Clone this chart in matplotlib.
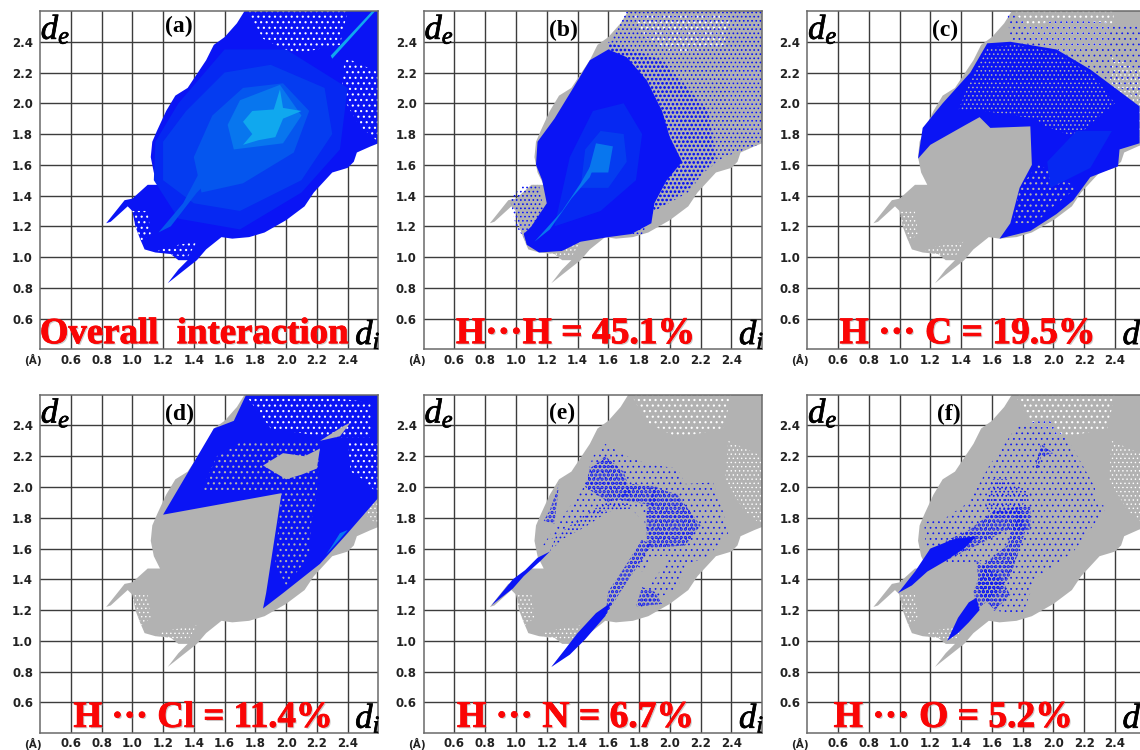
import matplotlib
matplotlib.use("Agg")
import matplotlib.pyplot as plt
import matplotlib.patheffects as pe

plt.rcParams["mathtext.fontset"] = "custom"
plt.rcParams["mathtext.it"] = "Liberation Serif:italic"
plt.rcParams["mathtext.rm"] = "Liberation Serif"

# tick labels
tick_vals = [0.6, 0.8, 1.0, 1.2, 1.4, 1.6, 1.8, 2.0, 2.2, 2.4]
tick_labels = ["0.6", "0.8", "1.0", "1.2", "1.4", "1.6", "1.8", "2.0", "2.2", "2.4"]

panel_names = ["(a)", "(b)", "(c)", "(d)", "(e)", "(f)"]
red_labels = ["Overall  interaction", "H···H = 45.1%", "H ··· C = 19.5%",
              "H ··· Cl = 11.4%", "H ··· N = 6.7%", "H ··· O = 5.2%"]

# outline of the whole fingerprint (di, de)
hull = [(1.23, 0.83), (1.42, 0.98), (1.48, 1.05), (1.58, 1.13), (1.65, 1.12), (1.76, 1.13),
        (1.86, 1.16), (2.0, 1.24), (2.12, 1.33), (2.18, 1.42), (2.3, 1.55), (2.4, 1.58),
        (2.44, 1.62), (2.46, 1.68), (2.55, 1.72), (2.6, 1.74), (2.6, 2.6), (1.73, 2.6),
        (1.68, 2.52), (1.6, 2.43), (1.53, 2.38), (1.48, 2.28), (1.4, 2.16), (1.36, 2.1),
        (1.28, 2.05), (1.22, 1.95), (1.16, 1.82), (1.13, 1.75), (1.12, 1.65), (1.14, 1.55),
        (1.18, 1.47), (1.1, 1.47), (1.0, 1.38), (0.95, 1.37), (0.83, 1.22), (0.86, 1.23),
        (0.97, 1.33), (1.0, 1.3), (1.02, 1.2), (1.05, 1.12), (1.08, 1.05), (1.15, 1.03),
        (1.25, 1.02), (1.3, 0.98), (1.36, 0.98), (1.3, 0.92)]
gaps_top = [(1.75, 2.6), (2.4, 2.6), (2.35, 2.38), (2.05, 2.32), (1.85, 2.42)]
gaps_right = [(2.6, 1.75), (2.6, 2.2), (2.38, 2.3), (2.36, 2.05), (2.48, 1.85)]
gaps_left = [(1.0, 1.3), (1.1, 1.3), (1.12, 1.15), (1.06, 1.1), (1.02, 1.2)]
gaps_low = [(1.15, 1.03), (1.36, 1.0), (1.42, 1.1), (1.3, 1.08), (1.2, 1.06)]

# (a) overall
a_base = [(1.14, 1.5), (1.3, 1.25), (1.7, 1.18), (2.1, 1.42), (2.35, 1.7), (2.4, 2.1), (2.0, 2.35),
          (1.6, 2.35), (1.3, 2.0), (1.15, 1.75)]
a_mid = [(1.2, 1.5), (1.4, 1.35), (1.7, 1.3), (2.1, 1.5), (2.3, 1.8), (2.25, 2.1), (1.9, 2.25),
         (1.6, 2.2), (1.35, 1.95), (1.2, 1.75)]
a_light = [(1.45, 1.42), (1.72, 1.48), (2.05, 1.68), (2.15, 1.95), (1.98, 2.13), (1.72, 2.1),
           (1.52, 1.92), (1.4, 1.65)]
a_warm = [(1.66, 1.7), (1.98, 1.74), (2.1, 1.92), (1.96, 2.12), (1.7, 2.02), (1.62, 1.86)]
a_hot = [(1.72, 1.73), (1.78, 1.8), (1.72, 1.88), (1.78, 1.95), (1.92, 1.96), (1.96, 2.09),
         (1.98, 1.97), (2.1, 1.95), (1.98, 1.9), (1.93, 1.78), (1.82, 1.76)]
a_stripe = [(1.17, 1.16), (1.25, 1.2), (1.42, 1.42), (1.55, 1.55), (1.62, 1.7), (1.5, 1.68),
            (1.42, 1.52), (1.33, 1.35)]
a_streak = [(2.3, 2.29), (2.58, 2.6), (2.56, 2.6), (2.29, 2.31)]

# (b) H...H
b_dense = [(1.07, 1.08), (1.15, 1.03), (1.3, 1.04), (1.42, 1.1), (1.6, 1.13), (1.75, 1.15),
           (1.88, 1.22), (1.9, 1.35), (1.98, 1.5), (2.08, 1.62), (2.0, 1.78), (1.95, 1.95),
           (1.85, 2.15), (1.72, 2.3), (1.6, 2.35), (1.48, 2.28), (1.36, 2.08),
           (1.25, 1.9), (1.14, 1.75), (1.13, 1.6), (1.17, 1.5), (1.2, 1.35), (1.1, 1.2), (1.05, 1.15)]
b_sparse = [(1.72, 2.6), (2.6, 2.6), (2.6, 1.74), (2.35, 1.65), (2.22, 1.55), (2.12, 1.42),
            (1.9, 1.3), (1.82, 1.15), (1.7, 1.15), (1.6, 2.38)]
b_fringe = [(1.6, 2.4), (1.95, 2.28), (2.25, 1.95), (2.3, 1.65), (2.14, 1.46), (1.9, 1.3), (1.7, 1.8)]
b_left = [(0.96, 1.38), (1.05, 1.47), (1.15, 1.47), (1.18, 1.3), (1.07, 1.1), (1.0, 1.2)]
b_mid = [(1.25, 1.2), (1.55, 1.3), (1.78, 1.5), (1.82, 1.8), (1.7, 2.0), (1.5, 1.95), (1.35, 1.65)]
b_light = [(1.42, 1.45), (1.6, 1.45), (1.72, 1.62), (1.7, 1.8), (1.55, 1.82), (1.45, 1.7)]
b_warm = [(1.47, 1.55), (1.6, 1.55), (1.63, 1.72), (1.52, 1.74)]
b_hot = [(1.12, 1.1), (1.22, 1.18), (1.36, 1.38), (1.48, 1.52), (1.55, 1.7), (1.5, 1.62),
         (1.42, 1.48), (1.3, 1.3)]

# (c) H...C
c_blue = [(1.12, 1.64), (1.15, 1.84), (1.28, 2.0), (1.37, 2.1), (1.46, 2.2), (1.57, 2.39),
          (1.72, 2.4), (2.02, 2.35), (2.24, 2.22), (2.56, 1.98), (2.56, 1.74), (2.43, 1.7),
          (2.42, 1.59), (2.24, 1.52), (2.13, 1.37), (2.02, 1.28), (1.85, 1.17), (1.65, 1.12),
          (1.72, 1.22), (1.78, 1.45), (1.86, 1.6), (1.85, 1.85), (1.59, 1.84), (1.52, 1.91),
          (1.43, 1.86), (1.2, 1.73)]
c_sparse = [(1.72, 2.4), (1.7, 2.6), (1.72, 2.6), (1.85, 2.5), (2.05, 2.55), (2.6, 2.5), (2.6, 2.0), (2.24, 2.22), (2.02, 2.35)]
c_gaps = [(1.45, 2.12), (1.57, 2.36), (1.75, 2.38), (2.02, 2.33), (2.26, 2.18), (2.4, 2.0), (2.28, 1.9),
          (2.15, 1.78), (1.95, 1.85), (1.88, 1.9), (1.55, 1.95), (1.38, 1.95)]
c_gaps2 = [(1.78, 1.45), (1.9, 1.6), (2.0, 1.55), (2.15, 1.45), (2.0, 1.33), (1.88, 1.22), (1.74, 1.22)]
c_mid = [(1.98, 1.45), (2.24, 1.58), (2.38, 1.82), (2.15, 1.82), (1.96, 1.62)]

# (d) H...Cl
d_blue = [(1.2, 1.82), (1.53, 2.38), (1.66, 2.43), (1.74, 2.6), (2.6, 2.6), (2.6, 1.93),
          (2.4, 1.7), (2.22, 1.5), (1.98, 1.31), (1.85, 1.21), (1.87, 1.31), (1.97, 1.96)]
d_gaps = [(1.55, 2.2), (1.72, 2.3), (2.0, 2.3), (2.22, 2.3), (2.2, 1.96), (2.16, 1.75), (2.15, 1.55),
          (2.0, 1.36), (1.93, 1.5), (1.97, 1.98), (1.45, 1.98)]
d_gaps3 = [(1.75, 2.58), (2.3, 2.58), (2.55, 2.55), (2.55, 2.32), (2.3, 2.32), (1.9, 2.38)]
d_right = [(2.4, 2.3), (2.6, 2.3), (2.6, 1.95), (2.5, 2.05), (2.42, 2.1)]
d_patch = [(1.85, 2.14), (1.98, 2.22), (2.12, 2.2), (2.22, 2.25), (2.2, 2.12), (2.1, 2.08), (2.0, 2.05)]
d_patch2 = [(2.22, 2.3), (2.38, 2.4), (2.42, 2.42), (2.35, 2.33)]
d_edge = [(2.3, 1.62), (2.26, 1.56), (2.34, 1.65), (2.4, 1.72), (2.35, 1.7)]

# (e) H...N
e_sparse = [(1.16, 1.6), (1.3, 1.8), (1.44, 2.0), (1.5, 2.2), (1.58, 2.28), (1.72, 2.2),
            (1.85, 2.15), (2.05, 2.12), (2.1, 2.02), (2.28, 2.03), (2.33, 1.9), (2.38, 1.7),
            (2.25, 1.55), (2.12, 1.5), (2.05, 1.35), (1.92, 1.27), (1.8, 1.2), (1.8, 1.27),
            (1.9, 1.4), (2.0, 1.55), (1.9, 1.55), (1.82, 1.45), (1.78, 1.5), (1.86, 1.65),
            (1.82, 1.85), (1.72, 1.88), (1.55, 1.84), (1.3, 1.72)]
e_spike1 = [(0.84, 1.23), (0.98, 1.34), (1.05, 1.42), (1.16, 1.52), (1.22, 1.58), (1.14, 1.54),
            (1.06, 1.46), (0.98, 1.4)]
e_spike2 = [(1.23, 0.83), (1.35, 0.91), (1.45, 1.01), (1.58, 1.16), (1.62, 1.25), (1.52, 1.18),
            (1.4, 1.05), (1.3, 0.92)]
e_arc = [(1.22, 1.58), (1.3, 1.66), (1.45, 1.74), (1.6, 1.84), (1.75, 1.86), (1.82, 1.78),
         (1.72, 1.9), (1.58, 1.9), (1.42, 1.8), (1.26, 1.68)]
e_leg = [(1.58, 1.16), (1.68, 1.32), (1.8, 1.5), (1.88, 1.62), (1.82, 1.66), (1.72, 1.5), (1.6, 1.32)]
e_clump1 = [(1.85, 1.6), (2.1, 1.62), (2.2, 1.75), (2.05, 1.95), (1.9, 2.0), (1.85, 1.85)]
e_clump2 = [(1.45, 2.0), (1.6, 1.9), (1.75, 1.95), (1.7, 2.1), (1.58, 2.2), (1.48, 2.12)]
e_clump3 = [(1.78, 1.22), (1.95, 1.24), (1.9, 1.32), (1.82, 1.35)]
e_clump4 = [(1.18, 1.78), (1.25, 1.76), (1.28, 2.02), (1.22, 1.85)]
e_clump5 = [(1.65, 1.92), (1.9, 1.88), (1.92, 2.0), (1.75, 2.02)]

# (f) H...O
f_sparse = [(1.16, 1.77), (1.3, 1.8), (1.45, 1.9), (1.59, 2.15), (1.76, 2.39), (1.96, 2.45),
            (2.11, 2.28), (2.27, 2.0), (2.27, 1.9), (2.35, 1.87), (2.13, 1.58), (1.88, 1.4),
            (1.8, 1.17), (1.59, 1.2), (1.5, 1.35), (1.55, 1.52), (1.35, 1.5), (1.2, 1.55), (1.17, 1.6)]
f_spike1 = [(0.99, 1.31), (1.08, 1.36), (1.18, 1.45), (1.3, 1.52), (1.42, 1.6), (1.5, 1.68),
            (1.35, 1.66), (1.2, 1.6), (1.1, 1.45)]
f_spike2 = [(1.31, 1.0), (1.38, 1.05), (1.45, 1.12), (1.52, 1.2), (1.5, 1.28), (1.45, 1.25), (1.38, 1.15)]
f_band1 = [(1.3, 1.52), (1.5, 1.62), (1.7, 1.72), (1.85, 1.72), (1.85, 1.88), (1.62, 1.85), (1.45, 1.72), (1.3, 1.65)]
f_band2 = [(1.5, 1.2), (1.62, 1.3), (1.72, 1.42), (1.82, 1.72), (1.78, 1.88), (1.7, 1.62), (1.55, 1.5), (1.48, 1.32)]
f_clump1 = [(1.88, 2.12), (1.92, 2.28), (2.0, 2.22), (1.92, 2.2), (1.9, 2.12)]
f_clump2 = [(1.5, 1.52), (1.65, 1.42), (1.72, 1.3), (1.62, 1.2), (1.52, 1.3)]
f_clump3 = [(1.55, 1.85), (1.72, 1.8), (1.86, 1.95), (1.7, 2.05), (1.6, 2.05)]

GREY = "#b2b2b2"
BLUE = "#0a14f5"

# fill, hatch colour, hatch, hatch line width for each kind of layer
looks = {
    "grey": (GREY, "none", None, 0),
    "blue": (BLUE, "none", None, 0),
    "base": ("#0628f2", "none", None, 0),
    "mid": ("#053cf0", "none", None, 0),
    "light": ("#0556ee", "none", None, 0),
    "warm": ("#0876ee", "none", None, 0),
    "hot": ("#10a8ee", "none", None, 0),
    "holes": ("none", "white", "....", 0.5),
    "holes_big": ("none", "white", "...", 0.8),
    "grey_dots": ("none", GREY, "....", 0.6),
    "grey_dots_big": ("none", GREY, "...", 0.8),
    "blue_dots": ("none", BLUE, "....", 0.7),
    "blue_heavy": ("none", BLUE, "....", 1.3),
    "blue_thin": ("none", BLUE, "...", 0.5),
    "blue_dense": ("none", BLUE, "....", 1.6),
}

common = [(hull, "grey"), (gaps_top, "holes_big"), (gaps_right, "holes"), (gaps_left, "holes"), (gaps_low, "holes")]
layers = [
    [(hull, "blue"), (gaps_top, "holes_big"), (gaps_right, "holes_big"), (gaps_left, "holes_big"), (gaps_low, "holes_big"),
     (a_base, "base"), (a_mid, "mid"), (a_light, "light"), (a_stripe, "light"), (a_warm, "warm"), (a_hot, "hot"), (a_streak, "hot")],
    common + [(b_sparse, "blue_dots"), (b_left, "blue_dots"), (b_fringe, "blue_heavy"), (b_dense, "blue"), (b_mid, "base"),
              (b_light, "mid"), (b_warm, "warm"), (b_hot, "warm")],
    common + [(c_sparse, "blue_thin"), (c_blue, "blue"), (c_gaps, "grey_dots"), (c_gaps2, "grey_dots_big"),
              (c_mid, "base")],
    common + [(d_blue, "blue"), (d_gaps, "grey_dots_big"), (d_gaps3, "holes_big"), (d_right, "holes_big"),
              (d_patch, "grey"), (d_patch2, "grey"), (d_edge, "warm")],
    common + [(e_sparse, "blue_thin"), (e_clump1, "blue_dense"), (e_clump2, "blue_dense"),
              (e_clump3, "blue_dense"), (e_clump4, "blue_dense"), (e_clump5, "blue_dense"),
              (e_arc, "blue_dots"), (e_leg, "blue_dense"), (e_spike1, "blue"), (e_spike2, "blue")],
    common + [(f_sparse, "blue_thin"), (f_clump1, "blue_dense"), (f_clump2, "blue_dense"),
              (f_clump3, "blue_dots"), (f_band1, "blue_dense"), (f_band2, "blue_dense"),
              (f_spike1, "blue"), (f_spike2, "blue")],
]

W, H = 1140, 750
lefts = [40, 423.7, 807.3]
tops = [11, 394.7]
size = 338.4

# where the letter and the red label sit, as fractions of each axes
letter_pos = [(0.411, 0.955), (0.412, 0.942), (0.408, 0.942), (0.411, 0.942), (0.41, 0.945), (0.418, 0.942)]
red_x = [0.455, 0.449, 0.474, 0.482, 0.449, 0.432]
red_size = [26.5, 27, 27, 26.5, 27, 27]

fig = plt.figure(figsize=(W / 100, H / 100), dpi=100, facecolor="white")
for i in range(6):
    left = lefts[i % 3]
    top = tops[i // 3]
    ax = fig.add_axes([left / W, 1 - (top + size) / H, size / W, size / H])
    ax.set_xlim(0.4, 2.6)
    ax.set_ylim(0.4, 2.6)
    ax.set_xticks(tick_vals, tick_labels)
    ax.set_yticks(tick_vals, tick_labels)
    ax.tick_params(length=0, labelsize=8.5, labelcolor="#222222")
    ax.tick_params(axis="x", pad=3)
    ax.tick_params(axis="y", pad=5)
    for lab in ax.get_xticklabels() + ax.get_yticklabels():
        lab.set_fontweight("bold")
    ax.grid(True, color="#3c3c3c", linewidth=1.0, zorder=1)
    ax.set_axisbelow(True)
    for s in ax.spines.values():
        s.set_color("#6a6a6a")
        s.set_linewidth(1.1)

    for pts, look in layers[i]:
        fc, hc, hatch, hlw = looks[look]
        xs = [p[0] for p in pts]
        ys = [p[1] for p in pts]
        plt.rcParams["hatch.linewidth"] = hlw
        ax.fill(xs, ys, facecolor=fc, edgecolor=hc, hatch=hatch, linewidth=0, zorder=2)

    ax.text(-0.021, -0.031, "(Å)", transform=ax.transAxes, ha="center", va="center",
            fontsize=7.5, fontweight="bold", color="#222222")
    ax.text(0.046, 0.948, r"$d_e$", transform=ax.transAxes, ha="center", va="center",
            fontsize=25, color="black", zorder=5,
            path_effects=[pe.withStroke(linewidth=0.5, foreground="black")])
    ax.text(0.969, 0.046, r"$d_i$", transform=ax.transAxes, ha="center", va="center",
            fontsize=25, color="black", zorder=5,
            path_effects=[pe.withStroke(linewidth=0.5, foreground="black")])
    ax.text(letter_pos[i][0], letter_pos[i][1], panel_names[i], transform=ax.transAxes, ha="center", va="center",
            family="Liberation Serif", fontweight="bold", fontsize=17, color="black", zorder=5)
    ax.text(red_x[i], 0.0465, red_labels[i], transform=ax.transAxes, ha="center", va="center",
            family="Liberation Serif", fontweight="bold", fontsize=red_size[i], color="#fa0505", zorder=6,
            path_effects=[pe.SimplePatchShadow(offset=(1, -1), shadow_rgbFace="#999999", alpha=0.5),
                          pe.withStroke(linewidth=0.6, foreground="#fa0505")])

fig.savefig("out.png", dpi=100)
